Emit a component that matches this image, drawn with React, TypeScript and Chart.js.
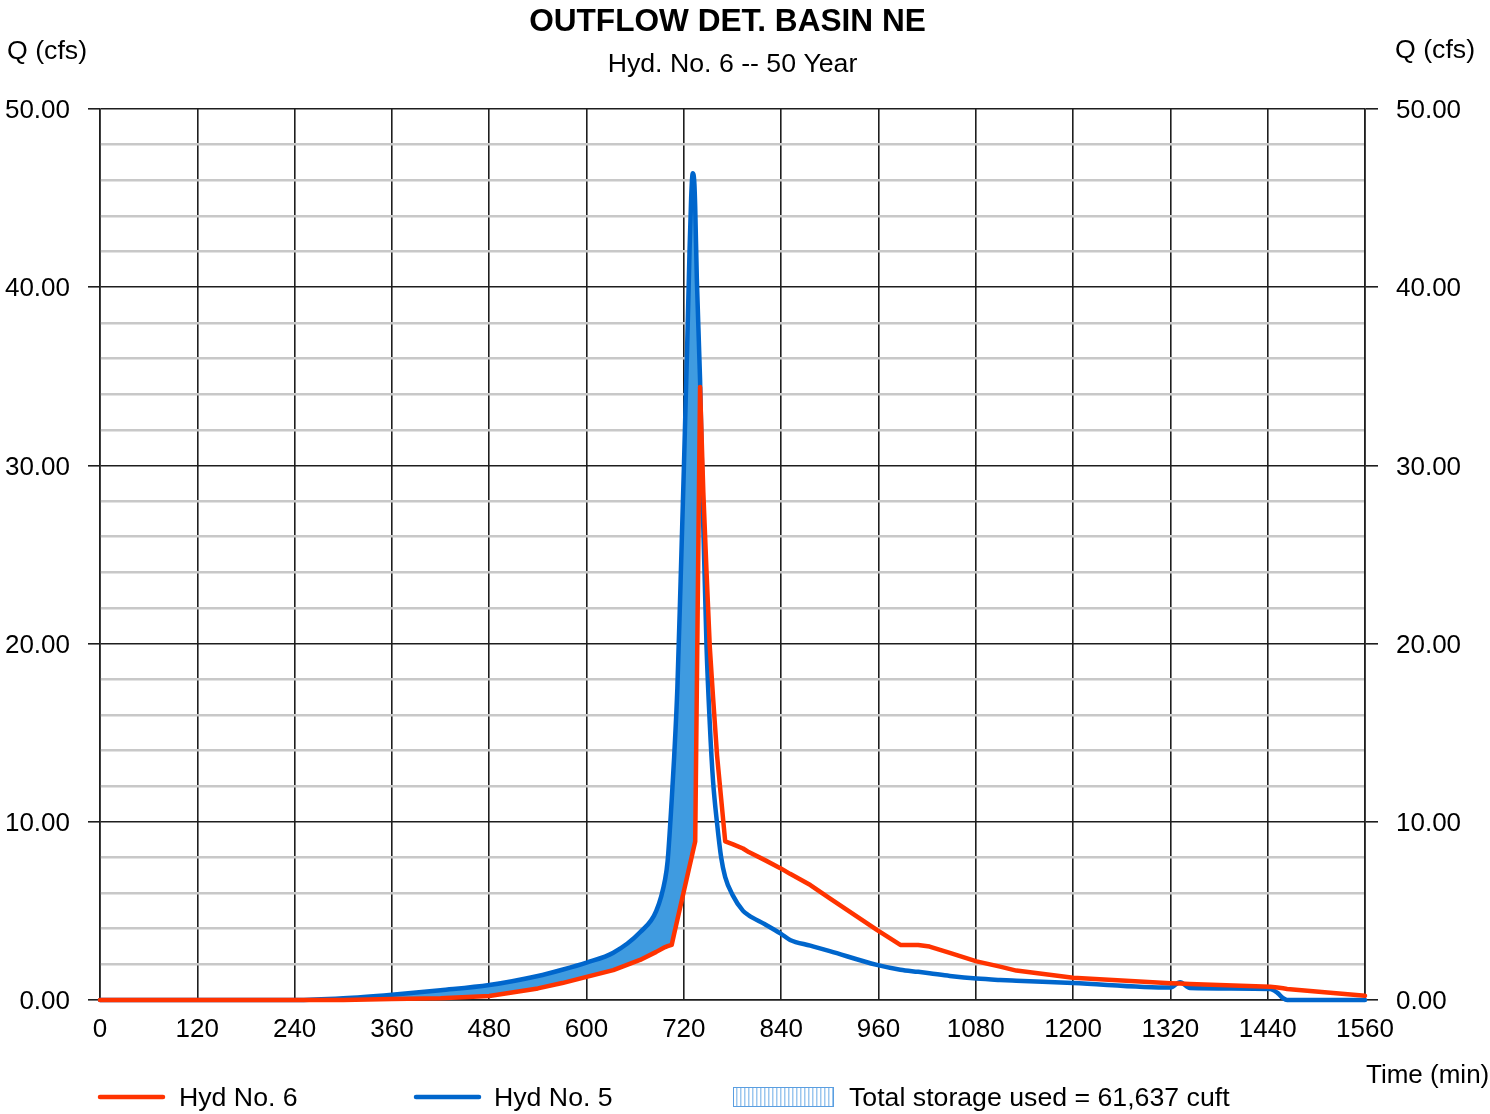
import React, { useEffect, useRef } from 'react';
import { Chart, registerables } from 'chart.js';

Chart.register(...registerables);

const FONT = '"Liberation Sans", Arial, Helvetica, sans-serif';

const titleText = 'OUTFLOW DET. BASIN NE';
const subtitleText = 'Hyd. No. 6 -- 50 Year';
const yAxisLabel = 'Q (cfs)';
const xAxisLabel = 'Time (min)';
const seriesNames = ['Hyd No. 6', 'Hyd No. 5'];
const storageLabel = 'Total storage used = 61,637 cuft';

// Time (min)
const timeMin = [
  0, 240, 300, 360, 420, 480, 540, 570, 600,
  633, 666, 686, 697, 700,
  705, 708, 712, 716, 720,
  724, 727, 729, 731, 733,
  734, 736, 740, 744, 748,
  752, 756, 761, 766, 771,
  780, 793, 800, 820, 839,
  851, 876, 900, 958, 987,
  1009, 1023, 1048, 1081, 1110,
  1130, 1200, 1320, 1332, 1344,
  1443, 1452, 1459, 1464, 1560,
];

// Hyd No. 6 (outflow), cfs
const hydNo6 = [
  0, 0, 0, 0.05, 0.1, 0.22, 0.65, 0.95, 1.3,
  1.68, 2.25, 2.7, 2.97, 3.02,
  3.09, 3.7, 4.5, 5.3, 6.1,
  6.9, 7.5, 7.9, 8.3, 8.7,
  8.9, 17.4, 34.4, 28.5, 24.0,
  19.8, 17.0, 13.7, 11.3, 8.9,
  8.75, 8.5, 8.3, 7.85, 7.4,
  7.08, 6.45, 5.7, 3.93, 3.09,
  3.09, 3.0, 2.65, 2.17, 1.87,
  1.65, 1.25, 0.94, 0.92, 0.9,
  0.75, 0.7, 0.66, 0.62, 0.24,
];

// Hyd No. 5 (inflow), cfs
const hydNo5 = [
  0, 0, 0.1, 0.3, 0.55, 0.84, 1.35, 1.7, 2.1,
  2.65, 3.8, 5.0, 6.8, 7.8,
  11.2, 13.6, 17.5, 23.5, 29.8,
  36.5, 42.0, 45.0, 46.4, 45.8,
  44.5, 40.5, 34.8, 26.5, 19.8,
  15.5, 12.3, 9.9, 8.0, 6.9,
  5.9, 5.0, 4.75, 4.25, 3.74,
  3.37, 3.05, 2.74, 1.97, 1.7,
  1.58, 1.5, 1.35, 1.2, 1.12,
  1.08, 0.95, 0.7, 1.0, 0.68,
  0.62, 0.4, 0.1, 0, 0,
];

const xMin = 0;
const xMax = 1560;
const xStep = 120;
const yMin = 0;
const yMax = 50;
const yMinorStep = 2;
const yMajorStep = 10;

const RED = '#ff3300';
const BLUE = '#0066cc';
const FILL = '#3f9be0';
const MAJOR = '#1e1e1e';
const MINOR = '#c8c8c8';

const isMajor = (v: number) => Math.abs(v % yMajorStep) < 1e-9;

function makeHatch(ctx: CanvasRenderingContext2D) {
  const c = document.createElement('canvas');
  c.width = 4;
  c.height = 4;
  const g = c.getContext('2d') as CanvasRenderingContext2D;
  g.fillStyle = '#ffffff';
  g.fillRect(0, 0, 4, 4);
  g.fillStyle = '#9cc7ef';
  g.fillRect(0, 0, 1.5, 4);
  return ctx.createPattern(c, 'repeat');
}

const textPlugin = {
  id: 'hydroText',
  afterDraw(chart: any) {
    const ctx: CanvasRenderingContext2D = chart.ctx;
    const area = chart.chartArea;
    const cx = (area.left + area.right) / 2;
    ctx.save();
    ctx.fillStyle = '#000';
    ctx.textBaseline = 'alphabetic';

    ctx.textAlign = 'center';
    ctx.font = `bold 31.6px ${FONT}`;
    ctx.fillText(titleText, cx - 5, 31);
    ctx.font = `26.7px ${FONT}`;
    ctx.fillText(subtitleText, cx, 72);

    ctx.textAlign = 'left';
    ctx.fillText(yAxisLabel, 7, 59);
    ctx.fillText(yAxisLabel, area.right + 30, 58);
    ctx.font = `26px ${FONT}`;
    ctx.fillText(xAxisLabel, area.right + 1, 1083);
    ctx.font = `26.7px ${FONT}`;

    // legend
    const ly = 1097;
    const tb = 1106;
    ctx.lineCap = 'round';
    ctx.lineWidth = 4.5;
    ctx.strokeStyle = RED;
    ctx.beginPath();
    ctx.moveTo(area.left, ly);
    ctx.lineTo(area.left + 63, ly);
    ctx.stroke();
    ctx.fillText(seriesNames[0], area.left + 79, tb);

    ctx.strokeStyle = BLUE;
    ctx.beginPath();
    ctx.moveTo(area.left + 316, ly);
    ctx.lineTo(area.left + 379, ly);
    ctx.stroke();
    ctx.fillText(seriesNames[1], area.left + 394, tb);

    const bx = area.left + 633;
    const bw = 100;
    const pat = makeHatch(ctx);
    if (pat) {
      ctx.fillStyle = pat;
      ctx.fillRect(bx, 1087, bw, 20);
    }
    ctx.lineWidth = 1;
    ctx.strokeStyle = '#5a9ee0';
    ctx.strokeRect(bx + 0.5, 1087.5, bw, 19);
    ctx.fillStyle = '#000';
    ctx.fillText(storageLabel, area.left + 749, tb);
    ctx.restore();
  },
};

export default function App() {
  const canvasRef = useRef<HTMLCanvasElement | null>(null);

  useEffect(() => {
    const canvas = canvasRef.current;
    if (!canvas) return;
    const yTicksCfg = {
      stepSize: yMinorStep,
      autoSkip: false,
      padding: 18,
      color: '#000',
      font: { family: FONT, size: 26, lineHeight: '4px' },
      callback: (v: any) => (isMajor(Number(v)) ? ['', Number(v).toFixed(2)] : ''),
    };
    const chart = new Chart(canvas, {
      type: 'line',
      data: {
        labels: timeMin,
        datasets: [
          {
            label: seriesNames[0],
            data: timeMin.map((t, i) => ({ x: t, y: hydNo6[i] })),
            borderColor: RED,
            borderWidth: 4.5,
            pointRadius: 0,
            tension: 0,
            borderJoinStyle: 'round',
            borderCapStyle: 'round',
            fill: false,
            clip: 10,
          },
          {
            label: seriesNames[1],
            data: timeMin.map((t, i) => ({ x: t, y: hydNo5[i] })),
            borderColor: BLUE,
            borderWidth: 4.5,
            pointRadius: 0,
            cubicInterpolationMode: 'monotone',
            borderJoinStyle: 'round',
            borderCapStyle: 'round',
            fill: { target: 0, above: FILL, below: 'rgba(0,0,0,0)' },
            clip: 10,
          },
        ],
      } as any,
      options: {
        responsive: false,
        animation: false,
        devicePixelRatio: 1,
        events: [],
        layout: { padding: { top: 109, bottom: 64, left: 0, right: 0 } },
        plugins: {
          legend: { display: false },
          tooltip: { enabled: false },
          title: { display: false },
        },
        scales: {
          x: {
            type: 'linear',
            min: xMin,
            max: xMax,
            ticks: {
              stepSize: xStep,
              autoSkip: false,
              maxRotation: 0,
              padding: 14,
              color: '#000',
              font: { family: FONT, size: 26 },
              callback: (v: any) => String(v),
            },
            grid: { color: MAJOR, lineWidth: 1.6, drawTicks: false },
            border: { display: true, color: MAJOR, width: 1.6 },
            afterFit: (s: any) => {
              s.height = 50;
            },
          },
          y: {
            type: 'linear',
            position: 'left',
            min: yMin,
            max: yMax,
            ticks: yTicksCfg,
            grid: {
              color: (c: any) => (isMajor(c.tick.value) ? MAJOR : MINOR),
              lineWidth: (c: any) => (isMajor(c.tick.value) ? 1.6 : 2.5),
              tickColor: (c: any) => (isMajor(c.tick.value) ? MAJOR : 'rgba(0,0,0,0)'),
              tickLength: 12,
            },
            border: { display: true, color: MAJOR, width: 1.6 },
            afterFit: (s: any) => {
              s.width = 100;
            },
          },
          y2: {
            type: 'linear',
            position: 'right',
            min: yMin,
            max: yMax,
            ticks: yTicksCfg,
            grid: {
              drawOnChartArea: false,
              color: (c: any) => (isMajor(c.tick.value) ? MAJOR : 'rgba(0,0,0,0)'),
              lineWidth: 1.6,
              tickLength: 13,
            },
            border: { display: true, color: MAJOR, width: 1.6 },
            afterFit: (s: any) => {
              s.width = 125;
            },
          },
        },
      } as any,
      plugins: [textPlugin],
    });
    return () => chart.destroy();
  }, []);

  return (
    <div style={{ position: 'fixed', left: 0, top: 0, width: 1490, height: 1114, background: '#fff' }}>
      <canvas ref={canvasRef} width={1490} height={1114} style={{ display: 'block' }} />
    </div>
  );
}
